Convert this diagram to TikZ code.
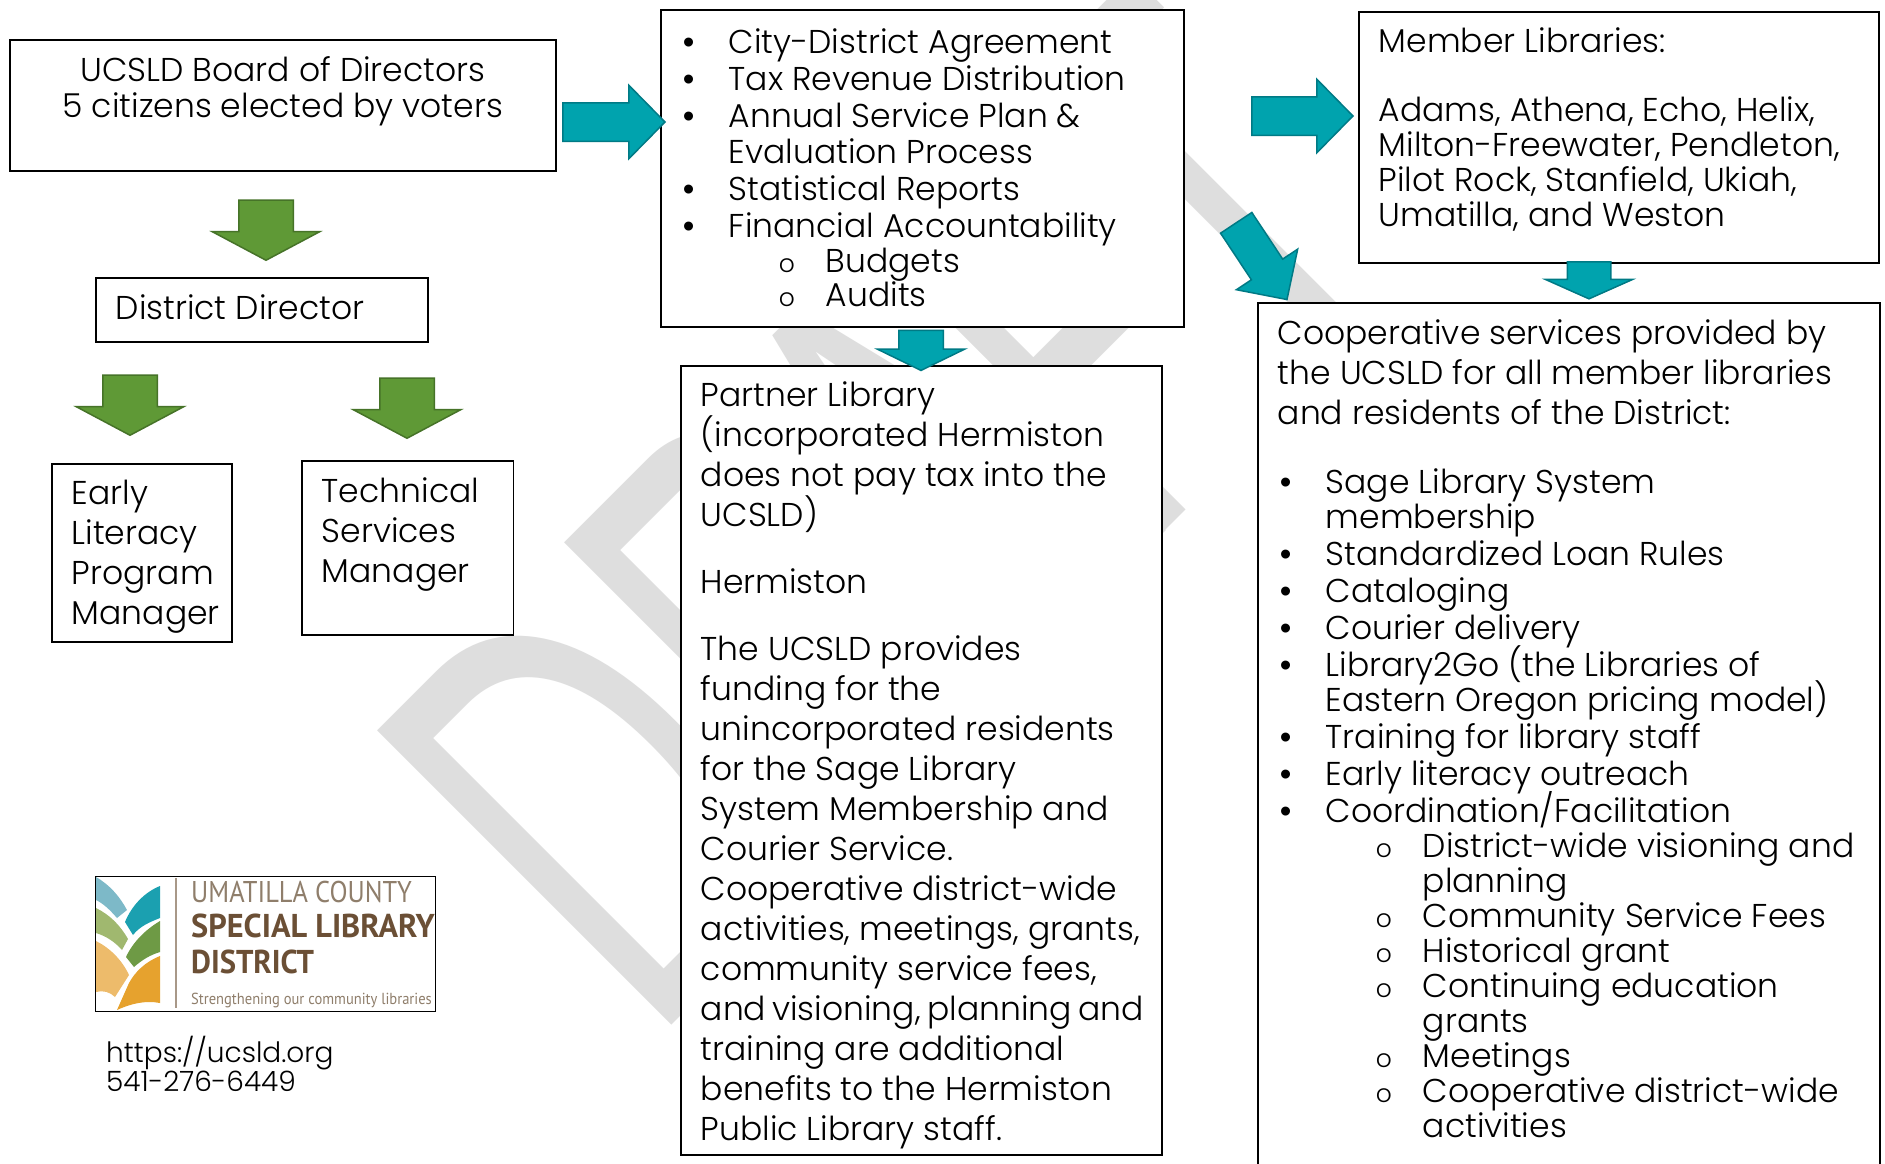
\documentclass[tikz,border=0pt]{standalone}
\usepackage{fontspec}
\setmainfont{Poppins Light}
\newfontfamily\markfont{Liberation Sans}
\newfontfamily\logofont{PT Sans}
\normallineskiplimit=-100pt
\lineskiplimit=-100pt
\usetikzlibrary{positioning, shapes.arrows}
\definecolor{tealfill}{HTML}{00A3AE}
\definecolor{tealedge}{HTML}{007A85}
\definecolor{greenfill}{HTML}{5F9936}
\definecolor{greenedge}{HTML}{467328}
\definecolor{markgray}{HTML}{DEDEDE}
\definecolor{logotan}{HTML}{8F7E6B}
\definecolor{logobrown}{HTML}{6B4F35}
\newcommand{\bul}{\makebox[48pt][l]{\hspace*{2pt}{\markfont\textbullet}}}
\newcommand{\sbul}{\hspace*{98pt}\makebox[47pt][l]{\fontsize{25}{25}\selectfont o}}
\newcommand{\bulgap}{\hspace*{48pt}}
\newcommand{\sbulgap}{\hspace*{145pt}}
\tikzset{
  infobox/.style={draw, line width=1.6pt, fill=white, anchor=north west, inner ysep=0pt, inner xsep=20pt, font=\fontsize{33}{35}\selectfont},
  tealarrow/.style={single arrow, fill=tealfill, draw=tealedge, line width=1.5pt, inner sep=0pt, single arrow head indent=0pt, text depth=0pt},
  greenarrow/.style={single arrow, fill=greenfill, draw=greenedge, line width=1.5pt, inner sep=0pt, single arrow head indent=0pt, text depth=0pt, text height=53pt, minimum width=106pt, minimum height=60pt, single arrow head extend=26.5pt, single arrow tip angle=124, rotate=270},
  logotext/.style={anchor=west, inner sep=0pt, font=\logofont}
}
\begin{document}
\begin{tikzpicture}[x=1pt,y=-1pt]
\useasboundingbox (0,0) rectangle (1885,1164);
\fill[white] (0,0) rectangle (1885,1164);
% watermark
\node[text=markgray, anchor=base west, inner sep=0pt, rotate=45, xscale=.608, font=\fontsize{605}{605}\selectfont\markfont] (draft) at (650,1046.5) {DR\kern-.125em A\kern-.1em F\kern-.1em T};
% left column
\node[infobox, inner xsep=0pt] (board) at (9,39) {\begin{minipage}[t][131pt][t]{546pt}\centering\vspace*{16.5pt}UCSLD Board of Directors\\[1pt]5 citizens elected by voters\end{minipage}};
\node[infobox] (director) at (95,277) {\begin{minipage}[t][64pt][t]{292pt}\vspace*{16.5pt}District Director\end{minipage}};
\node[infobox, font=\fontsize{33}{40}\selectfont] (early) at (51,463) {\begin{minipage}[t][178pt][t]{140pt}\vspace*{16.5pt}Early\\Literacy\\Program\\Manager\end{minipage}};
\node[infobox, font=\fontsize{33}{40}\selectfont] (tech) at (301,460) {\begin{minipage}[t][174pt][t]{171.5pt}\vspace*{17pt}Technical\\Services\\Manager\end{minipage}};
% logo
\node[draw, line width=1.2pt, fill=white, anchor=north west, minimum width=340pt, minimum height=135pt, inner sep=0pt] (logo) at (95,876) {};
\fill[fill={rgb,255:red,125;green,185;blue,200}] (96,877) .. controls (110,885) and (120,897) .. (127,910) -- (117,918) .. controls (110,910) and (104,904) .. (96,900) -- cycle;
\fill[fill={rgb,255:red,27;green,160;blue,176}] (160,886) .. controls (145,892) and (132,905) .. (125,922) -- (133,935) .. controls (140,926) and (150,922) .. (160,918) -- cycle;
\fill[fill={rgb,255:red,160;green,184;blue,111}] (96,908) .. controls (110,915) and (120,925) .. (128,939) -- (122,950) .. controls (115,942) and (106,936) .. (96,933) -- cycle;
\fill[fill={rgb,255:red,110;green,154;blue,69}] (160,921) .. controls (145,930) and (133,942) .. (126,957) -- (134,967) .. controls (142,960) and (150,955) .. (160,952) -- cycle;
\fill[fill={rgb,255:red,237;green,187;blue,107}] (96,941) .. controls (110,948) and (122,960) .. (129,975) -- (115,997) .. controls (110,992) and (103,990) .. (96,992) -- cycle;
\fill[fill={rgb,255:red,230;green,162;blue,46}] (160,956) .. controls (145,962) and (135,972) .. (129,983) -- (117,1010) .. controls (130,1004) and (145,1000) .. (160,1003) -- cycle;
\draw[line width=1.2pt, color={rgb,255:red,168;green,152;blue,136}] (176,878) -- (176,1008);
\node[logotext, text=logotan, xscale=.88, font=\fontsize{30}{30}\selectfont\logofont] (logoa) at (191,892) {UMATILLA COUNTY};
\node[logotext, text=logobrown, xscale=.98, font=\fontsize{33}{33}\selectfont\logofont\bfseries] (logob) at (191,926) {SPECIAL LIBRARY};
\node[logotext, text=logobrown, xscale=.93, font=\fontsize{33}{33}\selectfont\logofont\bfseries] (logoc) at (191,962) {DISTRICT};
\node[logotext, text=logotan, xscale=.91, font=\fontsize{16}{16}\selectfont\logofont] (logod) at (191,1000) {Strengthening our community libraries};
\node[anchor=north west, inner sep=0pt, align=left, font=\fontsize{28}{28.5}\selectfont] (contact) at (106,1036) {https://ucsld.org\\541-276-6449};
% middle column
\node[infobox] (service) at (660,9) {\begin{minipage}[t][317pt][t]{483pt}\vspace*{19pt}\bul City-District Agreement\\[2pt]\bul Tax Revenue Distribution\\[2pt]\bul Annual Service Plan \&\\[1pt]\bulgap Evaluation Process\\[2pt]\bul Statistical Reports\\[2pt]\bul Financial Accountability\\\sbul Budgets\\[-1pt]\sbul Audits\end{minipage}};
\node[infobox, font=\fontsize{33}{40}\selectfont] (partner) at (680,365) {\begin{minipage}[t][789pt][t]{441pt}\vspace*{16pt}Partner Library\\(incorporated Hermiston\\does not pay tax into the\\UCSLD)\\[27pt]Hermiston\\[27pt]The UCSLD provides\\funding for the\\unincorporated residents\\for the Sage Library\\System Membership and\\Courier Service.\\Cooperative district-wide\\activities, meetings, grants,\\community service fees,\\\makebox[441pt][s]{and visioning, planning and}\\training are additional\\benefits to the Hermiston\\Public Library staff.\end{minipage}};
% right column
\node[infobox] (member) at (1358,11) {\begin{minipage}[t][251pt][t]{480pt}\vspace*{15.5pt}Member Libraries:\\[34.5pt]Adams, Athena, Echo, Helix,\\Milton-Freewater, Pendleton,\\Pilot Rock, Stanfield, Ukiah,\\Umatilla, and Weston\end{minipage}};
\node[infobox] (cooperative) at (1257,302) {\begin{minipage}[t][900pt][t]{582pt}\vspace*{16.5pt}Cooperative services provided by\\[5pt]the UCSLD for all member libraries\\[5pt]and residents of the District:\\[34pt]\bul Sage Library System\\\bulgap membership\\[2.5pt]\bul Standardized Loan Rules\\[1.5pt]\bul Cataloging\\[2pt]\bul Courier delivery\\[2.5pt]\bul Library2Go (the Libraries of\\\bulgap Eastern Oregon pricing model)\\[2pt]\bul Training for library staff\\[2pt]\bul Early literacy outreach\\[2pt]\bul Coordination/Facilitation\\\sbul District-wide visioning and\\\sbulgap planning\\\sbul Community Service Fees\\\sbul Historical grant\\\sbul Continuing education\\\sbulgap grants\\\sbul Meetings\\\sbul Cooperative district-wide\\\sbulgap activities\end{minipage}};
% arrows
\node[greenarrow] (arrowa) at (266,223) {};
\node[greenarrow] (arrowb) at (130,398) {};
\node[greenarrow] (arrowc) at (407,401) {};
\node[tealarrow, text height=37pt, minimum width=72pt, minimum height=102pt, single arrow head extend=17.5pt, single arrow tip angle=91] (arrowd) at (604.5,122) {};
\node[tealarrow, text height=43pt, minimum width=86pt, minimum height=40pt, single arrow head extend=21.5pt, single arrow tip angle=128, rotate=270] (arrowe) at (921,345) {};
\node[tealarrow, text height=37pt, minimum width=72pt, minimum height=101pt, single arrow head extend=17.5pt, single arrow tip angle=91] (arrowf) at (1293,116) {};
\node[tealarrow, text height=42pt, minimum width=86pt, minimum height=37pt, single arrow head extend=22pt, single arrow tip angle=132, rotate=270] (arrowg) at (1589,275.5) {};
\node[tealarrow, text height=36pt, minimum width=72pt, minimum height=92pt, single arrow head extend=18pt, single arrow tip angle=91, rotate=-56.5] (arrowh) at (1256.5,253.5) {};
\end{tikzpicture}
\end{document}
